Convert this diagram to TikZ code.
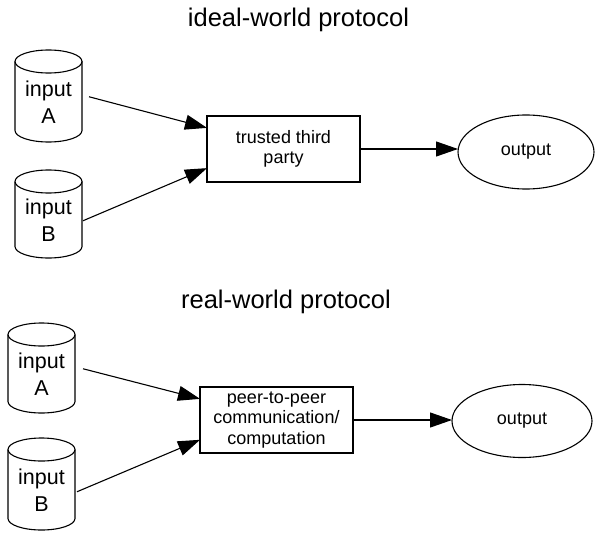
\documentclass[tikz,border=0pt]{standalone}
\usepackage{fontspec}
\setmainfont{Liberation Sans}
\usetikzlibrary{shapes.geometric,arrows.meta,calc}

% outline of a storage drum around a body node (top cap centred on its north edge)
\newcommand\drum[1]{%
  \draw[line width=1.1pt] (#1.north west) -- ($(#1.south west)+(0,-11.5)$)
    arc[start angle=180, end angle=0, x radius=33.5, y radius=11.5]
    -- (#1.north east);
  \draw[line width=1.1pt] (#1.north) ellipse[x radius=33.5, y radius=11.5];}

\begin{document}
\begin{tikzpicture}[x=1pt,y=-1pt,
  every node/.style={inner sep=0pt, outer sep=0pt},
  heading/.style={font=\fontsize{25.5}{30}\selectfont, anchor=base},
  store/.style={rectangle, minimum width=67pt, align=center,
    font=\fontsize{21.5}{27}\selectfont},
  procbox/.style={rectangle, draw, line width=1.1pt, minimum width=153pt,
    minimum height=66pt, align=center, font=\fontsize{18}{20.5}\selectfont},
  result/.style={ellipse, draw, line width=1.1pt, font=\fontsize{18}{20}\selectfont},
  arr/.style={line width=1.1pt, -{Triangle[length=22pt,width=15pt]}}
]
\useasboundingbox (0,0) rectangle (596,532);

% ideal-world protocol
\node[heading] (t1) at (298.5,27) {ideal-world protocol};
\node[store, minimum height=80.5pt] (ia) at (48.5,101.75) {input\\A};
\node[store, minimum height=76.5pt] (ib) at (48.5,219.75) {input\\B};
\drum{ia}
\drum{ib}
\node[procbox] (ttp) at (283.5,149) {trusted third\\party};
\node[result, minimum width=136pt, minimum height=74pt] (o1) at (526,152) {output};

\draw[arr] ($(ia.east)+(7,-5)$) -- ($(ttp.north west)!0.18!(ttp.south west)$);
\draw[arr] ($(ib.east)+(1,1)$) -- ($(ttp.north west)!0.79!(ttp.south west)$);
\draw[arr] (ttp.east) -- (ttp.east -| o1.west);

% real-world protocol
\node[heading] (t2) at (286,308) {real-world protocol};
\node[store, minimum height=78.5pt] (ra) at (41.5,373.75) {input\\A};
\node[store, minimum height=80.5pt] (rb) at (41.5,489.75) {input\\B};
\drum{ra}
\drum{rb}
\node[procbox] (p2p) at (276.5,420) {peer-to-peer\\communication/\\computation};
\node[result, minimum width=140pt, minimum height=73pt] (o2) at (522,421) {output};

\draw[arr] ($(ra.east)+(8,-5)$) -- ($(p2p.north west)!0.18!(p2p.south west)$);
\draw[arr] ($(rb.east)+(2,2)$) -- ($(p2p.north west)!0.8!(p2p.south west)$);
\draw[arr] (p2p.east) -- (p2p.east -| o2.west);
\end{tikzpicture}
\end{document}
